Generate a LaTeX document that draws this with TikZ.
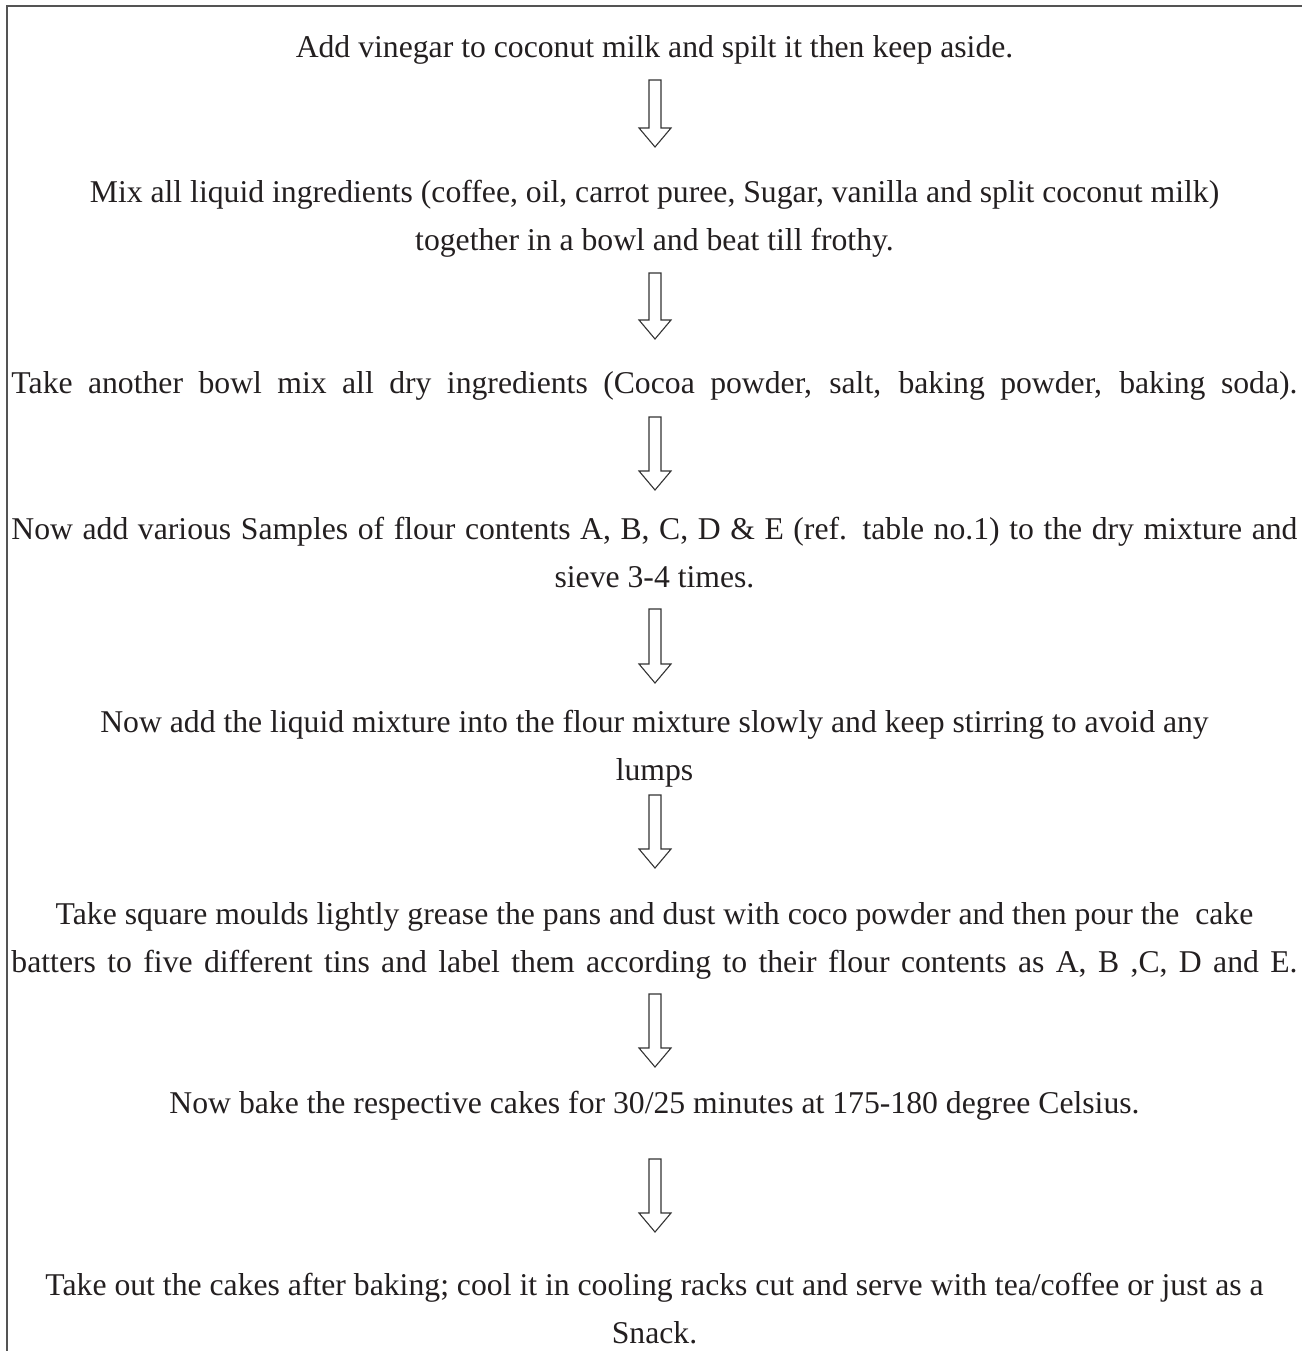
\documentclass[tikz,border=0pt]{standalone}
\usepackage{fontspec}
\setmainfont{Liberation Serif}
\usetikzlibrary{calc}

\definecolor{steptext}{rgb}{0.137, 0.122, 0.125}
\definecolor{framegrey}{rgb}{0.33, 0.33, 0.33}
\definecolor{arrowgrey}{rgb}{0.2, 0.2, 0.2}
\tikzset{stepnode/.style={anchor=base, align=center, inner sep=0pt, text=steptext,
    font=\fontsize{31.7}{48}\selectfont}}
\tikzset{blockarrow/.style={draw=arrowgrey, line width=1.1pt, line join=miter,
    to path={let \p1=(\tikztostart), \p2=(\tikztotarget) in
      (\x1-6pt,\y1) -- (\x1-6pt,\y2+19pt) -- (\x1-16pt,\y2+19pt) -- (\x1,\y2)
      -- (\x1+16pt,\y2+19pt) -- (\x1+6pt,\y2+19pt) -- (\x1+6pt,\y1) -- cycle}}}
\newcommand{\fullline}[1]{\makebox[1286pt][s]{#1}}

\begin{document}
\begin{tikzpicture}[x=1pt, y=-1pt]%{{{
        \useasboundingbox (0,0) rectangle (1302,1351);
        \draw[framegrey, line width=2pt] (6.5,1351) -- (6.5,6.5) -- (1302,6.5);

        \node[stepnode] (s1) at (654.5,  58) {Add vinegar to coconut milk and spilt it then keep aside.};
        \node[stepnode] (s2) at (654.5, 250) {Mix all liquid ingredients (coffee, oil, carrot puree, Sugar, vanilla and split coconut milk)\\together in a bowl and beat till frothy.};
        \node[stepnode] (s3) at (654.5, 393) {\fullline{Take another bowl mix all dry ingredients (Cocoa powder, salt, baking powder, baking soda).}};
        \node[stepnode] (s4) at (654.5, 587) {\fullline{Now add various Samples of flour contents A, B, C, D \& E (ref. table no.1) to the dry mixture and}\\sieve 3-4 times.};
        \node[stepnode] (s5) at (654.5, 780) {Now add the liquid mixture into the flour mixture slowly and keep stirring to avoid any\\lumps};
        \node[stepnode] (s6) at (654.5, 972) {Take square moulds lightly grease the pans and dust with coco powder and then pour the\ \ cake\\\fullline{batters to five different tins and label them according to their flour contents as A, B ,C, D and E.}};
        \node[stepnode] (s7) at (654.5,1113) {Now bake the respective cakes for 30/25 minutes at 175-180 degree Celsius.};
        \node[stepnode] (s8) at (654.5,1343) {Take out the cakes after baking; cool it in cooling racks cut and serve with tea/coffee or just as a\\Snack.};

        \draw [blockarrow] ($(s1.base)+(0.5,22)$) to ($(s2.base)+(0.5,-103)$);
        \draw [blockarrow] ($(s2.base)+(0.5,23)$) to ($(s3.base)+(0.5,-54)$);
        \draw [blockarrow] ($(s3.base)+(0.5,24)$) to ($(s4.base)+(0.5,-97)$);
        \draw [blockarrow] ($(s4.base)+(0.5,22)$) to ($(s5.base)+(0.5,-97)$);
        \draw [blockarrow] ($(s5.base)+(0.5,15)$) to ($(s6.base)+(0.5,-104)$);
        \draw [blockarrow] ($(s6.base)+(0.5,22)$) to ($(s7.base)+(0.5,-46)$);
        \draw [blockarrow] ($(s7.base)+(0.5,46)$) to ($(s8.base)+(0.5,-111)$);

    \end{tikzpicture}
\end{document}
